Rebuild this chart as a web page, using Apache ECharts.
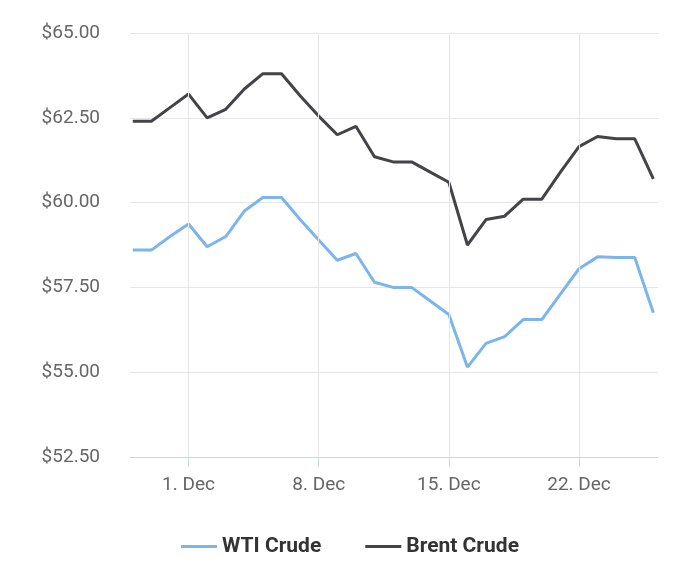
<!DOCTYPE html>
<html>
<head>
<meta charset="utf-8">
<script src="https://cdn.jsdelivr.net/npm/echarts@6/dist/echarts.min.js"></script>
<style>html,body{margin:0;padding:0;background:#fff}#c{width:700px;height:576px}</style>
</head>
<body>
<div id="c"></div>
<script>
// day index 0 = 28 Nov
var days = [];
for (var i = 0; i <= 28; i++) days.push(i);
var tickDays = [3, 10, 17, 24];
var tickLabels = ['1. Dec', '8. Dec', '15. Dec', '22. Dec'];
var wti = [58.6,58.6,59.0,59.37,58.7,59.0,59.75,60.15,60.15,59.5,58.9,58.3,58.5,57.65,57.5,57.5,57.1,56.7,55.15,55.85,56.05,56.55,56.55,57.3,58.05,58.4,58.38,58.38,56.75];
var brent = [62.4,62.4,62.8,63.2,62.5,62.75,63.35,63.8,63.8,63.15,62.55,62.0,62.25,61.35,61.2,61.2,60.9,60.6,58.75,59.5,59.6,60.1,60.1,60.9,61.65,61.95,61.88,61.88,60.7];

function pairs(vals){ return days.map(function(d, i){ return [d, vals[i]]; }); }

var myChart = echarts.init(document.getElementById('c'));
var font = 'Roboto, sans-serif';

var option = {
    animation: false,
    textStyle: {fontFamily: font},
    grid: {left: 130, right: 42, top: 33, bottom: 119},
    legend: {
        bottom: 14, left: 'center', itemGap: 44, itemWidth: 36, itemHeight: 3,
        icon: 'rect',
        textStyle: {fontSize: 21, fontWeight: 'bold', color: '#333', fontFamily: font},
        data: ['WTI Crude', 'Brent Crude']
    },
    xAxis: {
        type: 'value', min: -0.15, max: 28.25,
        axisLine: {lineStyle: {color: '#ccd6eb', width: 1}},
        axisTick: {show: true, customValues: tickDays, length: 10, lineStyle: {color: '#ccd6eb'}},
        axisLabel: {
            customValues: tickDays, color: '#666', fontSize: 19, margin: 19,
            formatter: function(v){ return tickLabels[tickDays.indexOf(Math.round(v))] || ''; }
        },
        splitLine: {show: false}
    },
    yAxis: {
        type: 'value', min: 52.5, max: 65, interval: 2.5,
        axisLine: {show: false}, axisTick: {show: false},
        axisLabel: {color: '#666', fontSize: 19, margin: 30, formatter: function(v){ return '$' + v.toFixed(2); }},
        splitLine: {lineStyle: {color: '#e6e6e6'}}
    },
    series: [
        {
            name: 'WTI Crude', type: 'line', data: pairs(wti), showSymbol: false,
            lineStyle: {width: 3, color: '#7cb5ec'}, itemStyle: {color: '#7cb5ec'},
            markLine: {
                silent: true, symbol: 'none', label: {show: false},
                lineStyle: {color: '#e6e6e6', type: 'solid', width: 1},
                data: tickDays.map(function(d){ return {xAxis: d}; })
            },
            z: 3
        },
        {
            name: 'Brent Crude', type: 'line', data: pairs(brent), showSymbol: false,
            lineStyle: {width: 3, color: '#434348'}, itemStyle: {color: '#434348'},
            z: 3
        }
    ]
};

myChart.setOption(option);
</script>
</body>
</html>
